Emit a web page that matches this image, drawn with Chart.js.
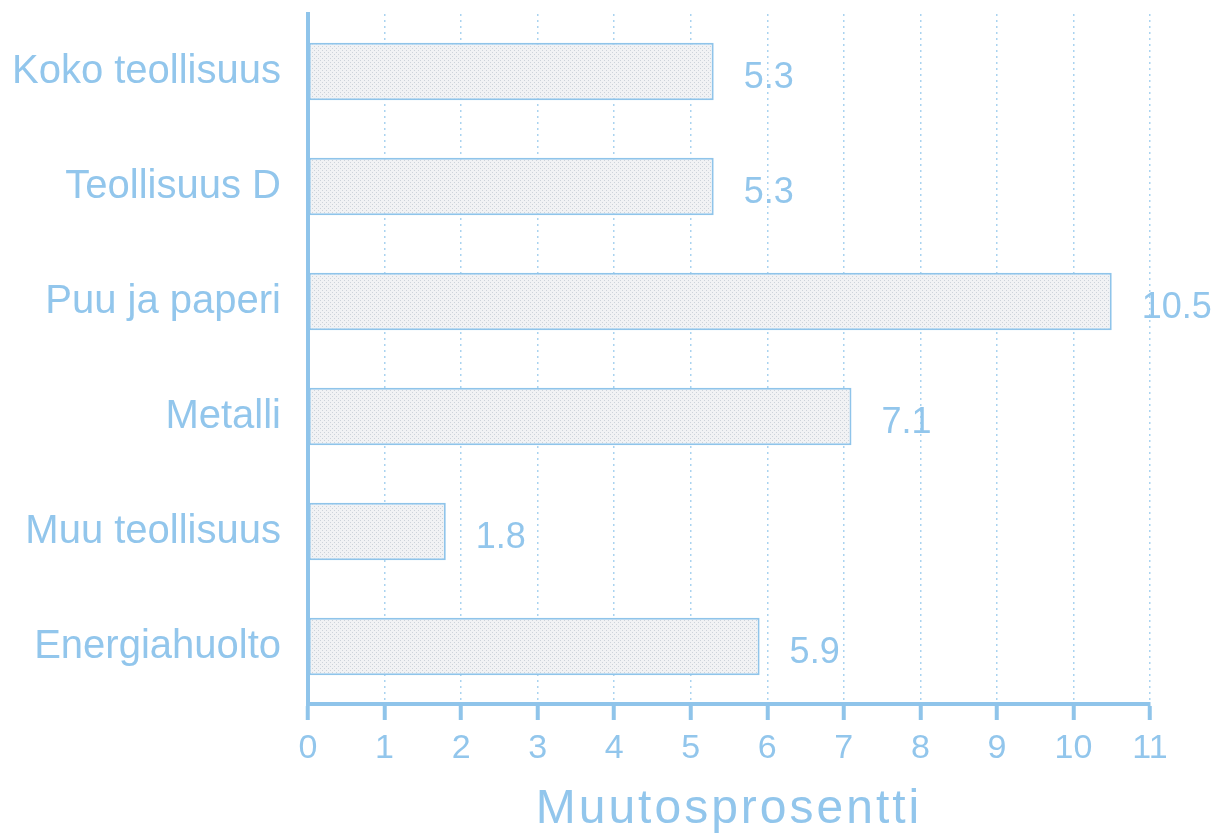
<!DOCTYPE html>
<html>
<head>
<meta charset="utf-8">
<script src="https://cdn.jsdelivr.net/npm/chart.js@4"></script>
<style>
  html, body { margin: 0; padding: 0; background: #ffffff; }
  #wrap { width: 1214px; height: 840px; position: relative; }
</style>
</head>
<body>
<div id="wrap"><canvas id="c" width="1214" height="840"></canvas></div>
<script>
const categories = ["Koko teollisuus", "Teollisuus D", "Puu ja paperi", "Metalli", "Muu teollisuus", "Energiahuolto"];
const values = [5.3, 5.3, 10.5, 7.1, 1.8, 5.9];
const valueLabels = ["5.3", "5.3", "10.5", "7.1", "1.8", "5.9"];
const axisTitle = "Muutosprosentti";
const xMin = 0, xMax = 11, xStep = 1;

const BLUE = '#8fc4ea';
const TEXT = '#92c6ec';
const GRID = '#aad3f0';
const FONT = "'Liberation Sans', Arial, Helvetica, sans-serif";

function makePattern() {
  const p = document.createElement('canvas');
  p.width = 4; p.height = 4;
  const g = p.getContext('2d');
  g.fillStyle = '#f1f2f4';
  g.fillRect(0, 0, 4, 4);
  g.fillStyle = '#cdd3da';
  g.fillRect(0, 0, 1, 1);
  g.fillRect(2, 2, 1, 1);
  return g.createPattern(p, 'repeat');
}
const pattern = makePattern();

const valueLabelPlugin = {
  id: 'valueLabels',
  afterDatasetsDraw(chart) {
    const ctx = chart.ctx;
    const meta = chart.getDatasetMeta(0);
    ctx.save();
    ctx.font = "36px " + FONT;
    ctx.fillStyle = TEXT;
    ctx.textAlign = 'left';
    ctx.textBaseline = 'middle';
    meta.data.forEach((bar, i) => {
      ctx.fillText(valueLabels[i], bar.x + 30, bar.y + 7);
    });
    ctx.restore();
  }
};

const axisTitlePlugin = {
  id: 'axisTitle',
  afterDraw(chart) {
    const ctx = chart.ctx;
    const area = chart.chartArea;
    ctx.save();
    ctx.font = "48px " + FONT;
    ctx.fillStyle = TEXT;
    ctx.textAlign = 'center';
    ctx.textBaseline = 'alphabetic';
    if ('letterSpacing' in ctx) ctx.letterSpacing = '3px';
    ctx.fillText(axisTitle, (area.left + area.right) / 2, 823);
    ctx.restore();
  }
};

new Chart(document.getElementById('c'), {
  type: 'bar',
  data: {
    labels: categories,
    datasets: [{
      data: values,
      backgroundColor: pattern,
      borderColor: BLUE,
      borderWidth: 2,
      borderSkipped: false,
      barPercentage: 0.5,
      categoryPercentage: 1.0
    }]
  },
  options: {
    indexAxis: 'y',
    responsive: false,
    animation: false,
    devicePixelRatio: 1,
    layout: { padding: { left: 0, right: 64, top: 14, bottom: 0 } },
    plugins: {
      legend: { display: false },
      tooltip: { enabled: false }
    },
    scales: {
      x: {
        min: xMin, max: xMax,
        ticks: {
          stepSize: xStep,
          color: TEXT,
          font: { family: FONT, size: 34 },
          padding: 8
        },
        grid: {
          color: (c) => (c.tick && c.tick.value === 0) ? 'rgba(0,0,0,0)' : GRID,
          lineWidth: 1.5,
          drawTicks: true,
          tickLength: 16,
          tickWidth: 4,
          tickColor: BLUE
        },
        border: { display: true, color: BLUE, width: 4, dash: [2, 4] },
        title: { display: false },
        afterFit(scale) { scale.height = 136; scale.paddingRight = 0; }
      },
      y: {
        ticks: {
          color: TEXT,
          font: { family: FONT, size: 40 },
          padding: 27
        },
        grid: { display: false, drawTicks: false },
        border: { display: true, color: BLUE, width: 4 },
        afterFit(scale) { scale.width = 308; scale.paddingTop = 0; scale.paddingBottom = 0; }
      }
    }
  },
  plugins: [valueLabelPlugin, axisTitlePlugin]
});
</script>
</body>
</html>
